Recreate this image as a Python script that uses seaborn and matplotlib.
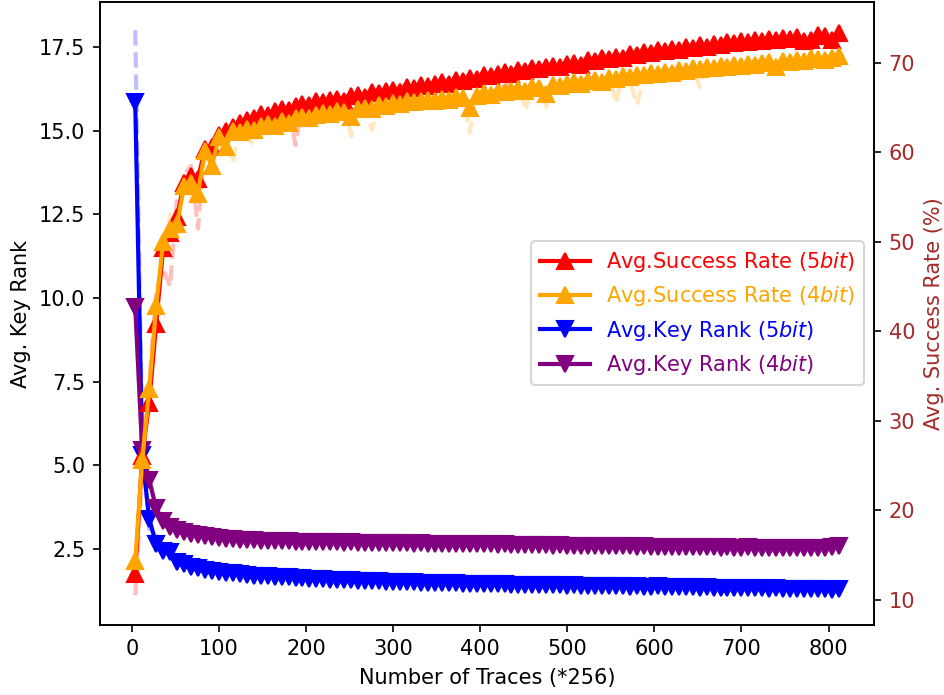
import numpy as np
import pandas as pd
import seaborn as sns
import matplotlib.pyplot as plt


# x axis: number of traces (*256)
traces = [4, 12, 20, 28, 36, 44, 52, 60, 68, 76,
          84, 92, 100, 108, 116, 124, 132, 140, 148, 156,
          164, 172, 180, 188, 196, 204, 212, 220, 228, 236,
          244, 252, 260, 268, 276, 284, 292, 300, 308, 316,
          324, 332, 340, 348, 356, 364, 372, 380, 388, 396,
          404, 412, 420, 428, 436, 444, 452, 460, 468, 476,
          484, 492, 500, 508, 516, 524, 532, 540, 548, 556,
          564, 572, 580, 588, 596, 604, 612, 620, 628, 636,
          644, 652, 660, 668, 676, 684, 692, 700, 708, 716,
          724, 732, 740, 748, 756, 764, 772, 780, 788, 796,
          804, 812]

# averaged success rate (%)
sr_5bit = [12.9, 26.1, 32.0, 40.8, 49.3, 51.0, 52.8, 56.6, 57.4, 57.0,
           60.4, 60.6, 61.9, 62.4, 62.8, 63.3, 63.6, 63.9, 64.3, 64.2,
           64.6, 64.8, 64.7, 65.2, 65.4, 65.3, 65.7, 65.6, 65.9, 66.0,
           65.8, 66.3, 66.4, 66.2, 66.7, 66.6, 66.9, 67.0, 66.8, 67.3,
           67.2, 67.5, 67.4, 67.7, 67.9, 67.7, 68.1, 68.0, 68.3, 68.2,
           68.6, 68.5, 68.8, 69.0, 68.8, 69.2, 69.1, 69.4, 69.3, 69.6,
           69.7, 69.5, 69.9, 70.0, 69.8, 70.3, 70.2, 70.5, 70.4, 70.7,
           70.6, 71.0, 70.9, 71.2, 71.1, 71.4, 71.3, 71.6, 71.5, 71.8,
           71.7, 72.0, 71.8, 72.1, 72.0, 72.3, 72.2, 72.4, 72.3, 72.6,
           72.5, 72.7, 72.6, 72.8, 72.7, 72.9, 72.4, 72.6, 73.1, 73.0,
           72.6, 73.3]

sr_4bit = [14.3, 25.6, 33.5, 42.8, 50.0, 51.4, 52.0, 56.2, 56.6, 55.4,
           60.2, 58.5, 61.7, 60.6, 62.4, 62.3, 62.6, 62.5, 63.0, 63.2,
           63.0, 63.5, 63.3, 63.8, 64.0, 63.9, 64.2, 64.4, 64.3, 64.6,
           64.5, 64.0, 64.9, 65.0, 64.8, 65.3, 65.2, 65.5, 65.4, 65.7,
           65.6, 65.8, 65.9, 65.7, 66.0, 65.9, 66.2, 66.1, 65.0, 66.3,
           66.6, 66.4, 66.8, 66.7, 66.9, 67.1, 66.9, 67.3, 67.2, 66.5,
           67.5, 67.4, 67.7, 67.9, 67.6, 68.0, 68.1, 67.9, 68.3, 68.2,
           68.5, 68.4, 68.7, 68.6, 68.9, 68.8, 69.0, 68.9, 69.2, 69.1,
           69.4, 69.3, 69.5, 69.4, 69.7, 69.6, 69.8, 69.7, 69.9, 69.8,
           70.0, 70.1, 69.5, 70.2, 70.1, 70.3, 70.2, 70.5, 70.4, 70.3,
           70.6, 70.8]

# averaged key rank
kr_5bit = [15.85, 5.30, 3.40, 2.65, 2.45, 2.40, 2.10, 2.05, 1.95, 1.93,
           1.88, 1.85, 1.80, 1.78, 1.77, 1.74, 1.73, 1.70, 1.70, 1.68,
           1.67, 1.66, 1.65, 1.63, 1.62, 1.61, 1.60, 1.59, 1.58, 1.58,
           1.57, 1.56, 1.55, 1.55, 1.54, 1.53, 1.52, 1.51, 1.52, 1.50,
           1.50, 1.49, 1.49, 1.48, 1.48, 1.47, 1.47, 1.46, 1.46, 1.45,
           1.45, 1.44, 1.44, 1.44, 1.43, 1.43, 1.42, 1.43, 1.42, 1.41,
           1.42, 1.41, 1.40, 1.41, 1.40, 1.40, 1.39, 1.39, 1.38, 1.39,
           1.38, 1.37, 1.38, 1.37, 1.36, 1.38, 1.36, 1.36, 1.35, 1.36,
           1.35, 1.34, 1.35, 1.34, 1.33, 1.34, 1.33, 1.33, 1.32, 1.33,
           1.32, 1.31, 1.32, 1.31, 1.31, 1.30, 1.31, 1.30, 1.29, 1.30,
           1.28, 1.31]

kr_4bit = [9.72, 5.46, 4.56, 3.72, 3.32, 3.15, 3.07, 3.00, 2.95, 2.92,
           2.88, 2.85, 2.82, 2.80, 2.79, 2.77, 2.76, 2.75, 2.74, 2.74,
           2.73, 2.72, 2.72, 2.71, 2.71, 2.70, 2.70, 2.69, 2.70, 2.69,
           2.68, 2.69, 2.68, 2.67, 2.68, 2.67, 2.66, 2.67, 2.66, 2.66,
           2.65, 2.66, 2.65, 2.65, 2.64, 2.65, 2.64, 2.64, 2.63, 2.64,
           2.63, 2.63, 2.62, 2.63, 2.62, 2.62, 2.61, 2.62, 2.61, 2.61,
           2.60, 2.61, 2.60, 2.60, 2.59, 2.60, 2.59, 2.59, 2.58, 2.59,
           2.58, 2.58, 2.57, 2.58, 2.57, 2.57, 2.56, 2.57, 2.56, 2.56,
           2.55, 2.56, 2.55, 2.55, 2.54, 2.55, 2.54, 2.54, 2.55, 2.54,
           2.54, 2.53, 2.54, 2.53, 2.54, 2.53, 2.53, 2.54, 2.53, 2.54,
           2.55, 2.58]

# raw (single run) curves, drawn faint behind the averages
sr_5bit_raw = [10.5, 24.5, 34.0, 44.5, 47.0, 45.0, 55.0, 57.5, 58.5, 51.5,
               61.0, 59.5, 62.5, 61.0, 63.5, 62.8, 64.0, 63.5, 64.8, 63.8,
               65.0, 64.3, 65.2, 60.8, 65.8, 65.0, 66.2, 65.4, 66.3, 65.6,
               66.4, 65.9, 66.9, 66.0, 67.2, 66.4, 67.3, 66.7, 67.6, 67.0,
               67.7, 67.3, 68.0, 67.4, 68.3, 67.6, 68.5, 67.9, 68.7, 68.0,
               69.0, 68.3, 69.2, 66.0, 69.3, 69.0, 69.6, 69.0, 69.8, 69.4,
               70.1, 69.2, 70.3, 69.7, 70.3, 69.9, 70.7, 70.0, 70.8, 70.3,
               71.1, 70.6, 71.5, 70.8, 71.6, 71.0, 71.8, 71.1, 71.9, 71.4,
               72.1, 71.4, 72.3, 71.6, 72.5, 71.8, 72.6, 72.0, 72.7, 72.2,
               72.9, 72.3, 73.0, 72.4, 73.2, 72.5, 72.8, 72.3, 73.3, 72.7,
               73.0, 73.4]

sr_4bit_raw = [13.0, 27.0, 31.5, 44.0, 48.5, 53.0, 50.5, 57.5, 55.0, 57.5,
               59.0, 60.0, 60.5, 62.0, 58.8, 63.0, 61.8, 60.8, 63.6, 62.6,
               63.7, 62.9, 64.0, 63.3, 64.5, 63.5, 64.8, 63.9, 65.0, 64.2,
               65.1, 61.8, 65.4, 64.6, 62.5, 65.7, 64.8, 66.0, 65.1, 66.2,
               65.3, 66.3, 65.5, 66.2, 65.5, 66.4, 65.8, 66.6, 62.2, 66.8,
               66.1, 67.0, 66.3, 67.2, 66.5, 67.4, 64.7, 67.7, 66.9, 65.1,
               68.0, 67.0, 68.2, 67.4, 68.3, 67.6, 68.6, 67.7, 68.7, 65.5,
               68.9, 68.1, 65.3, 68.4, 69.3, 68.5, 69.4, 68.7, 69.6, 68.8,
               69.8, 67.3, 70.0, 69.1, 70.1, 69.3, 70.3, 69.4, 70.4, 69.5,
               70.5, 69.7, 69.0, 69.9, 70.6, 70.0, 70.7, 70.1, 70.8, 70.0,
               71.0, 70.9]

kr_5bit_raw = [18.0, 5.80, 3.10, 2.90, 2.30, 2.55, 2.00, 2.15, 1.90, 2.00,
               1.92, 1.82, 1.84, 1.75, 1.80, 1.72, 1.76, 1.68, 1.72, 1.66,
               1.70, 1.64, 1.68, 1.61, 1.65, 1.59, 1.63, 1.57, 1.61, 1.56,
               1.60, 1.54, 1.58, 1.53, 1.57, 1.51, 1.55, 1.49, 1.54, 1.48,
               1.53, 1.47, 1.52, 1.46, 1.51, 1.45, 1.50, 1.44, 1.49, 1.43,
               1.48, 1.42, 1.47, 1.42, 1.46, 1.41, 1.45, 1.41, 1.45, 1.39,
               1.44, 1.39, 1.43, 1.39, 1.42, 1.38, 1.42, 1.37, 1.41, 1.37,
               1.40, 1.35, 1.41, 1.35, 1.39, 1.36, 1.38, 1.34, 1.38, 1.34,
               1.37, 1.32, 1.37, 1.32, 1.36, 1.32, 1.35, 1.31, 1.35, 1.31,
               1.34, 1.29, 1.34, 1.29, 1.33, 1.28, 1.33, 1.28, 1.31, 1.28,
               1.30, 1.29]

kr_4bit_raw = [9.90, 5.20, 4.70, 3.60, 3.40, 3.10, 3.10, 2.97, 2.97, 2.90,
               2.90, 2.83, 2.84, 2.78, 2.81, 2.75, 2.78, 2.73, 2.76, 2.72,
               2.75, 2.70, 2.74, 2.69, 2.73, 2.68, 2.72, 2.67, 2.72, 2.67,
               2.70, 2.67, 2.70, 2.65, 2.70, 2.65, 2.68, 2.65, 2.68, 2.64,
               2.67, 2.64, 2.67, 2.63, 2.66, 2.63, 2.66, 2.62, 2.65, 2.62,
               2.65, 2.61, 2.64, 2.61, 2.64, 2.60, 2.63, 2.60, 2.63, 2.59,
               2.62, 2.59, 2.62, 2.58, 2.61, 2.58, 2.61, 2.57, 2.60, 2.57,
               2.60, 2.56, 2.59, 2.56, 2.59, 2.55, 2.58, 2.55, 2.58, 2.54,
               2.57, 2.54, 2.57, 2.53, 2.56, 2.53, 2.56, 2.52, 2.57, 2.52,
               2.56, 2.52, 2.56, 2.51, 2.56, 2.51, 2.55, 2.52, 2.55, 2.52,
               2.57, 2.58]


fig, ax = plt.subplots(figsize=(944/150, 695/150), dpi=150)
fig.subplots_adjust(left=0.106, right=0.926, bottom=0.101, top=0.997)
ax2 = ax.twinx()

# faint raw curves
for y, c in [(kr_5bit_raw, 'blue'), (kr_4bit_raw, 'purple')]:
    sns.lineplot(x=traces, y=y, ax=ax, color=c, alpha=0.25, lw=2, linestyle='--')
for y, c in [(sr_5bit_raw, 'red'), (sr_4bit_raw, 'orange')]:
    sns.lineplot(x=traces, y=y, ax=ax2, color=c, alpha=0.25, lw=2, linestyle='--')

# averaged curves
sns.lineplot(x=traces, y=kr_5bit, ax=ax, color='blue', lw=2, marker='v', markersize=8,
             markeredgecolor='blue', markeredgewidth=1, label='Avg.Key Rank (5$bit$)')
sns.lineplot(x=traces, y=kr_4bit, ax=ax, color='purple', lw=2, marker='v', markersize=8,
             markeredgecolor='purple', markeredgewidth=1, label='Avg.Key Rank (4$bit$)')
sns.lineplot(x=traces, y=sr_5bit, ax=ax2, color='red', lw=2, marker='^', markersize=8,
             markeredgecolor='red', markeredgewidth=1, label='Avg.Success Rate (5$bit$)')
sns.lineplot(x=traces, y=sr_4bit, ax=ax2, color='orange', lw=2, marker='^', markersize=8,
             markeredgecolor='orange', markeredgewidth=1, label='Avg.Success Rate (4$bit$)')

ax.set_ylim(0.23, 18.84)
ax2.set_ylim(7.2, 76.8)

ax.set_xlabel('Number of Traces (*256)')
ax.set_ylabel('Avg. Key Rank')
ax2.set_ylabel('Avg. Success Rate (%)', color='brown')
ax2.tick_params(axis='y', labelcolor='brown')

# one legend for both axes
h1, l1 = ax.get_legend_handles_labels()
h2, l2 = ax2.get_legend_handles_labels()
ax.get_legend().remove()
ax2.legend(h2 + h1, l2 + l1, loc='center right', bbox_to_anchor=(1, 0.5),
           labelcolor='linecolor', fontsize=10, handlelength=2.4)

plt.savefig('out.png', dpi=150)
